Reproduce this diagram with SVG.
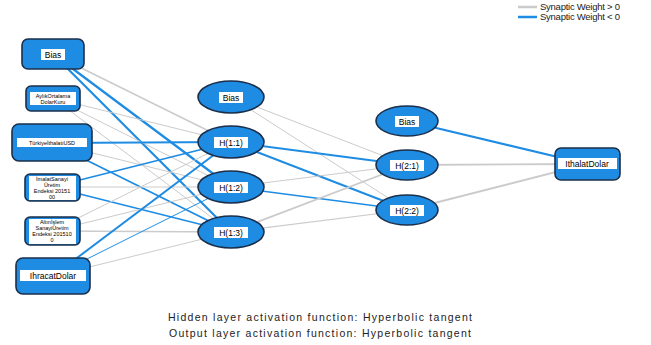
<svg xmlns="http://www.w3.org/2000/svg" width="651" height="345" viewBox="0 0 651 345">
<style>
.node{fill:#1E8CE3;stroke:#1B2F4A;stroke-width:1.6}
.lbg{fill:#ffffff}
.t{font-family:"Liberation Sans",Arial,sans-serif;font-size:8.5px;fill:#000;text-anchor:middle}
.ts{font-family:"Liberation Sans",Arial,sans-serif;font-size:5.5px;fill:#000;text-anchor:middle}
.pos{stroke:#CBCBCB;fill:none}
.neg{stroke:#1E8CE3;fill:none}
.cap{font-family:"Liberation Sans",Arial,sans-serif;font-size:10.5px;fill:#222;text-anchor:middle}
.leg{font-family:"Liberation Sans",Arial,sans-serif;font-size:9.5px;fill:#222}
</style>
<rect width="651" height="345" fill="#ffffff"/>
<g id="legend">
<line x1="518" y1="7" x2="537" y2="7" class="pos" stroke-width="2.5"/>
<line x1="518" y1="17" x2="537" y2="17" class="neg" stroke-width="2.5"/>
<text x="540" y="10" class="leg" textLength="80" lengthAdjust="spacing">Synaptic Weight &gt; 0</text>
<text x="540" y="20" class="leg" textLength="80" lengthAdjust="spacing">Synaptic Weight &lt; 0</text>
</g>
<g id="connectors">
<line x1="53" y1="54" x2="231" y2="142" class="pos" stroke-width="1.5"/>
<line x1="53" y1="54" x2="231" y2="187" class="neg" stroke-width="2.2"/>
<line x1="53" y1="54" x2="231" y2="232" class="neg" stroke-width="2.2"/>
<line x1="53" y1="98" x2="231" y2="142" class="pos" stroke-width="1"/>
<line x1="53" y1="98" x2="231" y2="187" class="pos" stroke-width="1"/>
<line x1="53" y1="98" x2="231" y2="232" class="pos" stroke-width="1"/>
<line x1="52" y1="143" x2="231" y2="142" class="neg" stroke-width="2"/>
<line x1="52" y1="143" x2="231" y2="187" class="pos" stroke-width="1"/>
<line x1="52" y1="143" x2="231" y2="232" class="neg" stroke-width="1.8"/>
<line x1="52" y1="187" x2="231" y2="142" class="neg" stroke-width="1.8"/>
<line x1="52" y1="187" x2="231" y2="187" class="pos" stroke-width="1.2"/>
<line x1="52" y1="187" x2="231" y2="232" class="neg" stroke-width="1.5"/>
<line x1="52" y1="231" x2="231" y2="142" class="pos" stroke-width="1"/>
<line x1="52" y1="231" x2="231" y2="187" class="pos" stroke-width="1"/>
<line x1="52" y1="231" x2="231" y2="232" class="pos" stroke-width="1.5"/>
<line x1="53" y1="276" x2="231" y2="142" class="neg" stroke-width="2"/>
<line x1="53" y1="276" x2="231" y2="187" class="neg" stroke-width="1"/>
<line x1="53" y1="276" x2="231" y2="232" class="pos" stroke-width="1"/>
<line x1="231" y1="97" x2="407" y2="165" class="pos" stroke-width="1"/>
<line x1="231" y1="97" x2="407" y2="210" class="pos" stroke-width="1"/>
<line x1="231" y1="142" x2="407" y2="165" class="neg" stroke-width="2"/>
<line x1="231" y1="142" x2="407" y2="210" class="neg" stroke-width="2"/>
<line x1="231" y1="187" x2="407" y2="165" class="pos" stroke-width="1"/>
<line x1="231" y1="187" x2="407" y2="210" class="neg" stroke-width="1.5"/>
<line x1="231" y1="232" x2="407" y2="165" class="pos" stroke-width="1.8"/>
<line x1="231" y1="232" x2="407" y2="210" class="pos" stroke-width="1.2"/>
<line x1="407" y1="121" x2="587" y2="164" class="neg" stroke-width="2"/>
<line x1="407" y1="165" x2="587" y2="164" class="pos" stroke-width="1.8"/>
<line x1="407" y1="210" x2="587" y2="164" class="pos" stroke-width="2"/>
</g>
<g id="in_bias">
<rect x="22" y="39" width="62" height="30" rx="6" class="node"/>
<rect x="41" y="49" width="24" height="11" class="lbg"/>
<text x="53" y="57.5" class="t">Bias</text>
</g>
<g id="in_aylik">
<rect x="26" y="86" width="54" height="25" rx="5" class="node"/>
<rect x="30" y="92" width="46" height="13" class="lbg"/>
<text x="53" y="98" class="ts">AylıkOrtalama</text>
<text x="53" y="104" class="ts">DolarKuru</text>
</g>
<g id="in_turkiye">
<rect x="12" y="124" width="80" height="37" rx="7" class="node"/>
<rect x="17" y="138" width="70" height="9" class="lbg"/>
<text x="52" y="145" class="ts">TürkiyeİthalatıUSD</text>
</g>
<g id="in_imalat">
<rect x="25" y="174" width="55" height="27" rx="5" class="node"/>
<rect x="29" y="176" width="47" height="24" class="lbg"/>
<text x="52" y="181" class="ts">İmalatSanayi</text>
<text x="52" y="187" class="ts">Üretim</text>
<text x="52" y="193" class="ts">Endeksi 20151</text>
<text x="52" y="199" class="ts">00</text>
</g>
<g id="in_altin">
<rect x="25" y="217" width="55" height="28" rx="5" class="node"/>
<rect x="29" y="219" width="47" height="25" class="lbg"/>
<text x="52" y="224" class="ts">Altınİşlem</text>
<text x="52" y="230" class="ts">SanayiÜretim</text>
<text x="52" y="236" class="ts">Endeksi 201510</text>
<text x="52" y="242" class="ts">0</text>
</g>
<g id="in_ihracat">
<rect x="16" y="258" width="74" height="36" rx="7" class="node"/>
<rect x="20" y="270" width="66" height="11" class="lbg"/>
<text x="53" y="279" class="t">IhracatDolar</text>
</g>
<g id="h1_bias">
<ellipse cx="231" cy="97" rx="33" ry="16" class="node"/>
<rect x="219" y="92" width="24" height="11" class="lbg"/>
<text x="231" y="100.5" class="t">Bias</text>
</g>
<g id="h11">
<ellipse cx="231" cy="142" rx="33" ry="16" class="node"/>
<rect x="214" y="137" width="34" height="11" class="lbg"/>
<text x="231" y="145.5" class="t">H(1:1)</text>
</g>
<g id="h12">
<ellipse cx="231" cy="187" rx="33" ry="16" class="node"/>
<rect x="214" y="182" width="34" height="11" class="lbg"/>
<text x="231" y="190.5" class="t">H(1:2)</text>
</g>
<g id="h13">
<ellipse cx="231" cy="232" rx="33" ry="16" class="node"/>
<rect x="214" y="227" width="34" height="11" class="lbg"/>
<text x="231" y="235.5" class="t">H(1:3)</text>
</g>
<g id="h2_bias">
<ellipse cx="407" cy="121" rx="31" ry="15" class="node"/>
<rect x="395" y="116" width="24" height="11" class="lbg"/>
<text x="407" y="124.5" class="t">Bias</text>
</g>
<g id="h21">
<ellipse cx="407" cy="165" rx="31" ry="15" class="node"/>
<rect x="390" y="160" width="34" height="11" class="lbg"/>
<text x="407" y="168.5" class="t">H(2:1)</text>
</g>
<g id="h22">
<ellipse cx="407" cy="210" rx="31" ry="15" class="node"/>
<rect x="390" y="205" width="34" height="11" class="lbg"/>
<text x="407" y="213.5" class="t">H(2:2)</text>
</g>
<g id="out">
<rect x="555" y="148" width="65" height="32" rx="6" class="node"/>
<rect x="558" y="158" width="59" height="11" class="lbg"/>
<text x="587" y="167" class="t">IthalatDolar</text>
</g>
<g id="caption">
<text x="320" y="321" class="cap" textLength="304" lengthAdjust="spacing">Hidden layer activation function: Hyperbolic tangent</text>
<text x="320" y="337" class="cap" textLength="302" lengthAdjust="spacing">Output layer activation function: Hyperbolic tangent</text>
</g>
</svg>
